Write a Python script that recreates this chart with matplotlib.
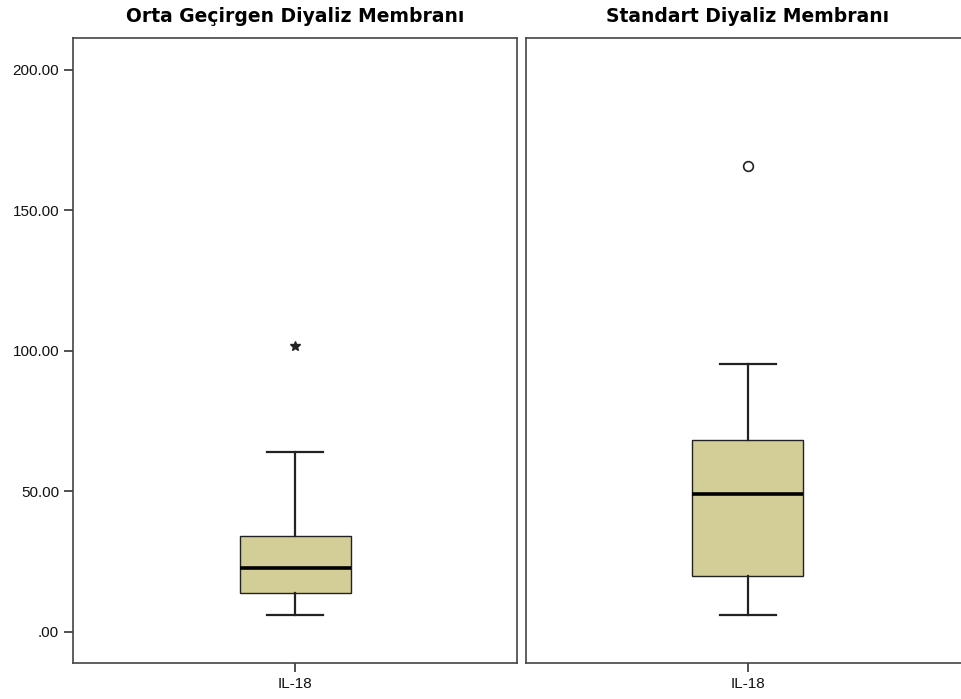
import matplotlib.pyplot as plt

# panel titles and the single variable on the x axis
panels = ['Orta Geçirgen Diyaliz Membranı', 'Standart Diyaliz Membranı']
variable = 'IL-18'

# box statistics (whisker low, Q1, median, Q3, whisker high)
whislo = [5.9, 5.9]
q1 = [13.6, 19.9]
med = [22.8, 49.0]
q3 = [34.1, 68.2]
whishi = [64.0, 95.1]
# outliers: extreme (star) on the left, mild (circle) on the right
extremes = [[101.6], []]
milds = [[], [165.6]]

yticks = [0, 50, 100, 150, 200]
yticklabels = ['.00', '50.00', '100.00', '150.00', '200.00']

box_color = '#d3ce97'
line_color = '#222222'

plt.rcParams['font.family'] = ['Liberation Sans', 'DejaVu Sans']

fig = plt.figure(figsize=(9.61, 6.99), dpi=100)
positions = [[0.076, 0.052, 0.462, 0.894], [0.5473, 0.052, 0.462, 0.894]]

for i, title in enumerate(panels):
    ax = fig.add_axes(positions[i])
    stats = [{'whislo': whislo[i], 'q1': q1[i], 'med': med[i], 'q3': q3[i],
              'whishi': whishi[i], 'fliers': []}]
    ax.bxp(stats, positions=[0], widths=0.5, capwidths=0.25, patch_artist=True,
           showfliers=False,
           boxprops=dict(facecolor=box_color, edgecolor=line_color, linewidth=1.0),
           medianprops=dict(color='black', linewidth=2.6),
           whiskerprops=dict(color=line_color, linewidth=1.6),
           capprops=dict(color=line_color, linewidth=1.6))
    if extremes[i]:
        ax.plot([0] * len(extremes[i]), extremes[i], linestyle='none', marker='*',
                color=line_color, markersize=7)
    if milds[i]:
        ax.plot([0] * len(milds[i]), milds[i], linestyle='none', marker='o',
                markerfacecolor='white', markeredgecolor=line_color,
                markeredgewidth=1.2, markersize=7)

    ax.set_xlim(-1, 1)
    ax.set_ylim(-11.0, 211.3)
    ax.set_xticks([0])
    ax.set_xticklabels([variable], fontsize=11)
    if i == 0:
        ax.set_yticks(yticks)
        ax.set_yticklabels(yticklabels, fontsize=11)
    else:
        ax.set_yticks([])
    ax.tick_params(length=6.5, width=1.1, color=line_color, labelcolor='#111111')
    for sp in ax.spines.values():
        sp.set_color('#444444')
        sp.set_linewidth(1.2)
    ax.set_title(title, fontsize=13.5, fontweight='bold', family='DejaVu Sans', pad=11)

fig.savefig('out.png', dpi=100)
